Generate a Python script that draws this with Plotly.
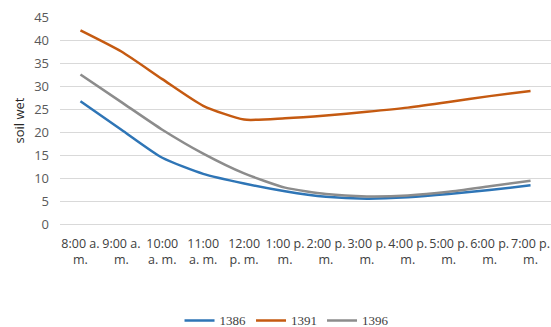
import plotly.graph_objects as go

times = ["8:00 a.<br>m.", "9:00 a.<br>m.", "10:00<br>a. m.", "11:00<br>a. m.", "12:00<br>p. m.",
         "1:00 p.<br>m.", "2:00 p.<br>m.", "3:00 p.<br>m.", "4:00 p.<br>m.", "5:00 p.<br>m.",
         "6:00 p.<br>m.", "7:00 p.<br>m."]
s1386 = [26.7, 20.5, 14.4, 10.9, 8.8, 7.1, 5.9, 5.5, 5.8, 6.5, 7.4, 8.4]
s1391 = [42.1, 37.5, 31.5, 25.7, 22.7, 23.0, 23.6, 24.4, 25.3, 26.5, 27.8, 28.9]
s1396 = [32.5, 26.5, 20.5, 15.3, 11.0, 7.9, 6.5, 6.0, 6.2, 7.0, 8.2, 9.4]
yticks = [0, 5, 10, 15, 20, 25, 30, 35, 40, 45]

fig = go.Figure()
for name, vals, color in [("1386", s1386, "#2e75b6"), ("1391", s1391, "#c55a11"), ("1396", s1396, "#8c8c8c")]:
    fig.add_trace(go.Scatter(x=times, y=vals, name=name, mode="lines",
                             line=dict(color=color, width=2.5, shape="spline", smoothing=0.6)))

fig.update_layout(
    width=551, height=327,
    margin=dict(l=60, r=0, t=17, b=103),
    paper_bgcolor="white", plot_bgcolor="white",
    font=dict(family="Liberation Sans", size=12, color="#404040"),
    xaxis=dict(type="category", range=[-0.5, 11.5], showgrid=False, showline=False, ticks="",
               tickfont=dict(family="Open Sans", size=12.5, color="#404040"), tickangle=0,
               ticklabelstandoff=10, automargin=False),
    yaxis=dict(range=[0, 45], tickvals=yticks, showgrid=True, gridcolor="#d9d9d9",
               gridwidth=1, zeroline=True, zerolinecolor="#d9d9d9", zerolinewidth=1,
               tickfont=dict(family="Open Sans", size=13, color="#595959"), ticks="",
               ticklabelstandoff=10, automargin=False,
               title=dict(text="soil wet", font=dict(family="Open Sans", size=13, color="#262626"),
                          standoff=6)),
    legend=dict(orientation="h", x=0.52, xanchor="center", xref="container",
                y=0.02, yanchor="middle", yref="container",
                font=dict(family="Liberation Serif", size=13, color="#404040"),
                itemwidth=30, tracegroupgap=0),
    showlegend=True,
)

fig.write_html("out.html")
